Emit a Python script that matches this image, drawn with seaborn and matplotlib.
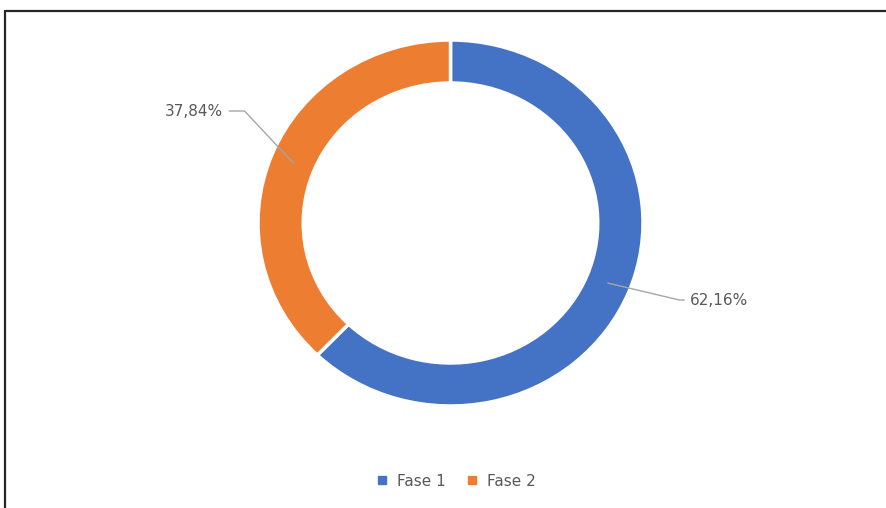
import matplotlib
matplotlib.use("Agg")
import matplotlib.pyplot as plt
from matplotlib.lines import Line2D
import numpy as np
import seaborn as sns

categories = ["Fase 1", "Fase 2"]
values = [62.16, 37.84]
labels = ["62,16%", "37,84%"]
colors = ["#4472C4", "#ED7D31"]

sns.set_theme(style="white")
plt.rcParams['font.family'] = ['DejaVu Sans']

W, H = 886, 508
fig = plt.figure(figsize=(W / 100, H / 100), dpi=100)
fig.patch.set_facecolor("white")

# pie axes (slightly elliptical like the reference)
cx, cy, rx, ry = 450.5, 223, 192.5, 183
ax = fig.add_axes([(cx - rx) / W, (H - (cy + ry)) / H, 2 * rx / W, 2 * ry / H])
wedges, _ = ax.pie(values, colors=colors, startangle=90, counterclock=False,
                   radius=1.0, wedgeprops=dict(width=0.235, edgecolor="white", linewidth=2.5))
ax.set_aspect("auto")
ax.set_xlim(-1, 1)
ax.set_ylim(-1, 1)
ax.axis("off")

# leader lines and labels
text_pos = [(1.245, -0.421, "left"), (-1.18, 0.612, "right")]
elbows = [1.19, -1.07]
cum = 0
for i, v in enumerate(values):
    mid = 90 - (cum + v / 2) / 100 * 360
    cum += v
    r = 0.88
    x0, y0 = r * np.cos(np.radians(mid)), r * np.sin(np.radians(mid))
    tx, ty, ha = text_pos[i]
    ex = elbows[i]
    end = tx - 0.03 if ha == "left" else tx + 0.03
    ax.plot([x0, ex, end], [y0, ty, ty], color="#A6A6A6", lw=1.0, clip_on=False)
    ax.text(tx, ty, labels[i], ha=ha, va="center", fontsize=11, color="#595959")

# legend
handles = [Line2D([0], [0], marker="s", linestyle="", markersize=6,
                  markerfacecolor=c, markeredgecolor=c) for c in colors]
fig.legend(handles, categories, loc="center", bbox_to_anchor=(456 / W, 1 - 481 / H),
           ncol=2, frameon=False, fontsize=11, labelcolor="#595959",
           handlelength=0.8, handletextpad=0.6, columnspacing=1.3)

# frame border (top and left)
fig.add_artist(Line2D([5 / W, 1.0], [1 - 11 / H, 1 - 11 / H], color="#262626", lw=1.6))
fig.add_artist(Line2D([5 / W, 5 / W], [0, 1 - 11 / H], color="#262626", lw=1.6))

fig.savefig("out.png", dpi=100, facecolor="white")
